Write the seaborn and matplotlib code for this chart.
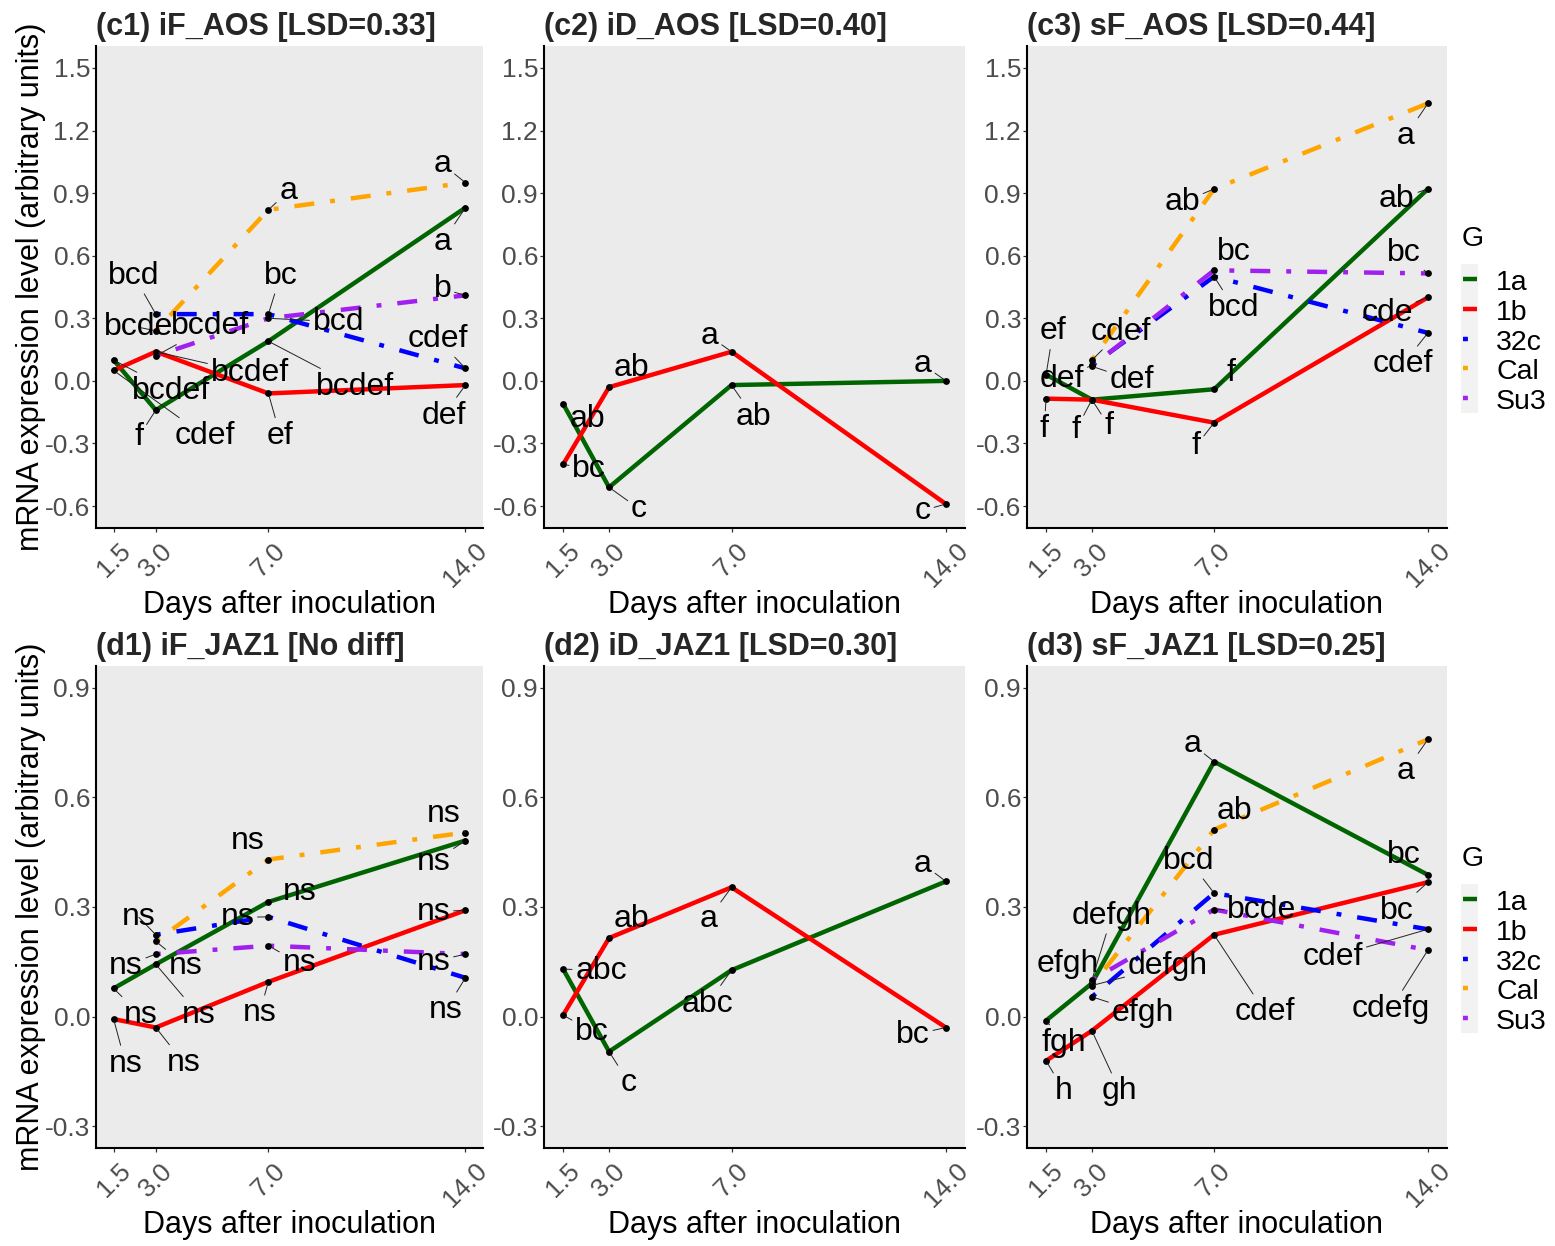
import matplotlib
matplotlib.use("Agg")
import matplotlib.pyplot as plt
import pandas as pd
import seaborn as sns
from matplotlib.patches import Rectangle

sns.set_theme(style="white")
plt.rcParams["font.family"] = ["Liberation Sans", "DejaVu Sans"]
plt.rcParams["axes.unicode_minus"] = False

# ---------------------------------------------------------------- data
days = [1.5, 3.0, 7.0, 14.0]
day_labels = ["1.5", "3.0", "7.0", "14.0"]
genotypes = ["1a", "1b", "32c", "Cal", "Su3"]

aos_ticks = [-0.6, -0.3, 0.0, 0.3, 0.6, 0.9, 1.2, 1.5]
jaz_ticks = [-0.3, 0.0, 0.3, 0.6, 0.9]

# (c1) iF_AOS
c1_values = {"1a": [0.10, -0.14, 0.19, 0.83],
             "1b": [0.05, 0.14, -0.06, -0.02],
             "32c": [None, 0.32, 0.32, 0.06],
             "Cal": [None, 0.24, 0.82, 0.95],
             "Su3": [None, 0.12, 0.30, 0.41]}
c1_letters = {"1a": ["bcdef", "f", "bcdef", "a"],
              "1b": ["cdef", "bcdef", "ef", "def"],
              "32c": [None, "bcd", "bc", "cdef"],
              "Cal": [None, "bcde", "a", "a"],
              "Su3": [None, "bcdef", "bcd", "b"]}

# (c2) iD_AOS
c2_values = {"1a": [-0.11, -0.51, -0.02, 0.00],
             "1b": [-0.40, -0.03, 0.14, -0.59]}
c2_letters = {"1a": ["ab", "c", "ab", "a"],
              "1b": ["bc", "ab", "a", "c"]}

# (c3) sF_AOS
c3_values = {"1a": [0.03, -0.09, -0.04, 0.92],
             "1b": [-0.085, -0.09, -0.20, 0.40],
             "32c": [None, 0.075, 0.50, 0.23],
             "Cal": [None, 0.10, 0.92, 1.33],
             "Su3": [None, 0.07, 0.53, 0.515]}
c3_letters = {"1a": ["ef", "f", "f", "ab"],
              "1b": ["f", "f", "f", "cde"],
              "32c": [None, "def", "bcd", "cdef"],
              "Cal": [None, "cdef", "ab", "a"],
              "Su3": [None, "def", "bc", "bc"]}

# (d1) iF_JAZ1
d1_values = {"1a": [0.077, 0.143, 0.314, 0.482],
             "1b": [-0.007, -0.030, 0.095, 0.291],
             "32c": [None, 0.224, 0.273, 0.106],
             "Cal": [None, 0.206, 0.430, 0.504],
             "Su3": [None, 0.171, 0.194, 0.171]}
d1_letters = {g: [None if v is None else "ns" for v in vals]
              for g, vals in d1_values.items()}

# (d2) iD_JAZ1
d2_values = {"1a": [0.130, -0.096, 0.127, 0.370],
             "1b": [0.004, 0.215, 0.354, -0.030]}
d2_letters = {"1a": ["abc", "c", "abc", "a"],
              "1b": ["bc", "ab", "a", "bc"]}

# (d3) sF_JAZ1
d3_values = {"1a": [-0.011, 0.091, 0.698, 0.388],
             "1b": [-0.121, -0.039, 0.224, 0.368],
             "32c": [None, 0.054, 0.338, 0.239],
             "Cal": [None, 0.085, 0.512, 0.759],
             "Su3": [None, 0.100, 0.293, 0.182]}
d3_letters = {"1a": ["fgh", "efgh", "a", "bc"],
              "1b": ["h", "gh", "cdef", "bc"],
              "32c": [None, "efgh", "bcd", "cdef"],
              "Cal": [None, "defgh", "ab", "a"],
              "Su3": [None, "defgh", "bcde", "cdefg"]}

# ------------------------------------------------- label placement (px)
c1_offsets = {"1a": [(58, -27), (-17, -23), (87, -42), (-23, -31)],
              "1b": [(91, -62), (94, -18), (12, -39), (-22, -27)],
              "32c": [None, (-22, 42), (12, 42), (-28, 33)],
              "Cal": [None, (-17, 7), (20, 22), (-23, 22)],
              "Su3": [None, (54, 33), (70, 0), (-23, 10)]}
c2_offsets = {"1a": [(24, -12), (30, -18), (22, -28), (-23, 20)],
              "1b": [(26, -1), (22, 23), (-22, 19), (-23, -3)]}
c3_offsets = {"1a": [(7, 47), (-16, -27), (17, 20), (-31, -7)],
              "1b": [(-2, -27), (17, -23), (-18, -20), (-41, -12)],
              "32c": [None, (-30, -10), (20, -28), (-25, -28)],
              "Cal": [None, (29, 32), (-32, -10), (-22, -29)],
              "Su3": [None, (40, -10), (20, 22), (-24, 24)]}
d1_offsets = {"1a": [(27, -23), (43, -47), (31, 13), (-32, -18)],
              "1b": [(12, -41), (28, -32), (-9, -28), (-32, 2)],
              "32c": [None, (-17, 21), (-31, 3), (-20, -29)],
              "Cal": [None, (30, -21), (-21, 22), (-22, 22)],
              "Su3": [None, (-30, -8), (31, -14), (-32, -4)]}
d2_offsets = {"1a": [(38, 2), (20, -28), (-24, -30), (-23, 21)],
              "1b": [(29, -13), (22, 23), (-23, -28), (-33, -4)]}
d3_offsets = {"1a": [(18, -19), (-24, 23), (-22, 21), (-24, 23)],
              "1b": [(18, -27), (28, -57), (51, -74), (-31, -25)],
              "32c": [None, (51, -13), (-25, 36), (-95, -24)],
              "Cal": [None, (76, 23), (20, 22), (-22, -28)],
              "Su3": [None, (20, 68), (48, 3), (-37, -55)]}

# ---------------------------------------------------------------- style
colors = {"1a": "#006400", "1b": "#FF0000", "32c": "#0000FF",
          "Cal": "#FFA500", "Su3": "#A020F0"}
dotdash = (1.1, 3.6, 4.5, 3.6)
dash_styles = {"1a": "", "1b": "", "32c": dotdash, "Cal": dotdash, "Su3": dotdash}
LW = 3.2

W, H = 1555, 1246
fig = plt.figure(figsize=(W / 100, H / 100), dpi=100)

col_px = [(96, 483), (544, 965), (1027, 1447)]
row_px = [(46, 528), (666, 1148)]


def add_axes_px(x0, x1, y0, y1):
    return fig.add_axes([x0 / W, 1 - y1 / H, (x1 - x0) / W, (y1 - y0) / H])


def draw_panel(ax, title, values, letters, offsets, ylim, yticks, ylabel):
    rows = []
    for g in genotypes:
        if g not in values:
            continue
        for d, v, lab, off in zip(days, values[g], letters[g], offsets[g]):
            if v is None:
                continue
            rows.append(dict(Day=d, G=g, value=v, letter=lab, dx=off[0], dy=off[1]))
    df = pd.DataFrame(rows)
    present = [g for g in genotypes if g in values]

    sns.lineplot(data=df, x="Day", y="value", hue="G", style="G",
                 hue_order=present, style_order=present,
                 palette={g: colors[g] for g in present},
                 dashes={g: dash_styles[g] for g in present},
                 linewidth=LW, legend=False, errorbar=None, ax=ax)
    sns.scatterplot(data=df, x="Day", y="value", color="black", s=24,
                    linewidth=0, legend=False, ax=ax, zorder=4)
    for r in df.itertuples():
        ax.annotate(r.letter, xy=(r.Day, r.value), xytext=(r.dx, r.dy),
                    textcoords="offset pixels", ha="center", va="center_baseline",
                    fontsize=23, color="black", zorder=5,
                    arrowprops=dict(arrowstyle="-", color="#222222", lw=0.7,
                                    shrinkA=0, shrinkB=2))

    lo, hi = ylim
    pad = 0.05 * (hi - lo)
    ax.set_ylim(lo - pad, hi + pad)
    ax.set_xlim(days[0] - 0.05 * (days[-1] - days[0]),
                days[-1] + 0.05 * (days[-1] - days[0]))
    ax.set_yticks(yticks)
    ax.set_yticklabels([f"{t:.1f}" for t in yticks])
    ax.set_xticks(days)
    ax.set_xticklabels(day_labels, rotation=45, ha="center")

    ax.set_facecolor("#EBEBEB")
    ax.grid(False)
    for s in ["top", "right"]:
        ax.spines[s].set_visible(False)
    for s in ["left", "bottom"]:
        ax.spines[s].set_color("black")
        ax.spines[s].set_linewidth(1.5)
    ax.tick_params(axis="both", which="major", bottom=True, left=True,
                   length=2.75, width=0.9, color="#333333",
                   labelcolor="#4D4D4D", labelsize=19, direction="out")
    ax.tick_params(axis="y", pad=1.5)
    ax.tick_params(axis="x", pad=5)

    ax.set_title(title, loc="left", fontsize=22, fontweight="bold", pad=8)
    ax.set_xlabel("Days after inoculation", fontsize=22, color="black", va="center")
    h_px = ax.get_position().height * H
    w_px = ax.get_position().width * W
    ax.xaxis.set_label_coords(0.5, -77 / h_px)
    if ylabel:
        ax.set_ylabel("mRNA expression level (arbitrary units)", fontsize=22,
                      color="black", va="center")
        ax.yaxis.set_label_coords(-(96 - 31) / w_px, 0.5)
    else:
        ax.set_ylabel("")


def draw_legend(row_top):
    lax = add_axes_px(1450, 1555, row_top, row_top + 400)
    lax.set_xlim(1450, 1555)
    lax.set_ylim(row_top + 400, row_top)
    lax.axis("off")
    lax.text(1462, row_top + 190, "G", fontsize=20.5, ha="left",
             va="center_baseline", color="black")
    step = 29.8
    key_top = row_top + 218
    lax.add_patch(Rectangle((1461, key_top), 17, step * len(genotypes),
                            facecolor="#F2F2F2", edgecolor="none"))
    for i, g in enumerate(genotypes):
        y = key_top + step * (i + 0.5)
        kw = {} if dash_styles[g] == "" else {"dashes": dash_styles[g]}
        lax.plot([1462.5, 1476.5], [y, y], color=colors[g], lw=LW,
                 solid_capstyle="butt", dash_capstyle="butt", clip_on=False, **kw)
        lax.text(1496, y + 1, g, fontsize=20.5, ha="left",
                 va="center_baseline", color="black")


panels = [
    [("(c1) iF_AOS [LSD=0.33]", c1_values, c1_letters, c1_offsets),
     ("(c2) iD_AOS [LSD=0.40]", c2_values, c2_letters, c2_offsets),
     ("(c3) sF_AOS [LSD=0.44]", c3_values, c3_letters, c3_offsets)],
    [("(d1) iF_JAZ1 [No diff]", d1_values, d1_letters, d1_offsets),
     ("(d2) iD_JAZ1 [LSD=0.30]", d2_values, d2_letters, d2_offsets),
     ("(d3) sF_JAZ1 [LSD=0.25]", d3_values, d3_letters, d3_offsets)],
]
row_limits = [((-0.6, 1.5), aos_ticks), ((-0.3, 0.9), jaz_ticks)]

for r, row in enumerate(panels):
    ylim, yticks = row_limits[r]
    for c, (title, vals, lets, offs) in enumerate(row):
        ax = add_axes_px(col_px[c][0], col_px[c][1], row_px[r][0], row_px[r][1])
        draw_panel(ax, title, vals, lets, offs, ylim, yticks, ylabel=(c == 0))
    draw_legend(row_px[r][0])

fig.savefig("out.png", dpi=100, facecolor="white")
